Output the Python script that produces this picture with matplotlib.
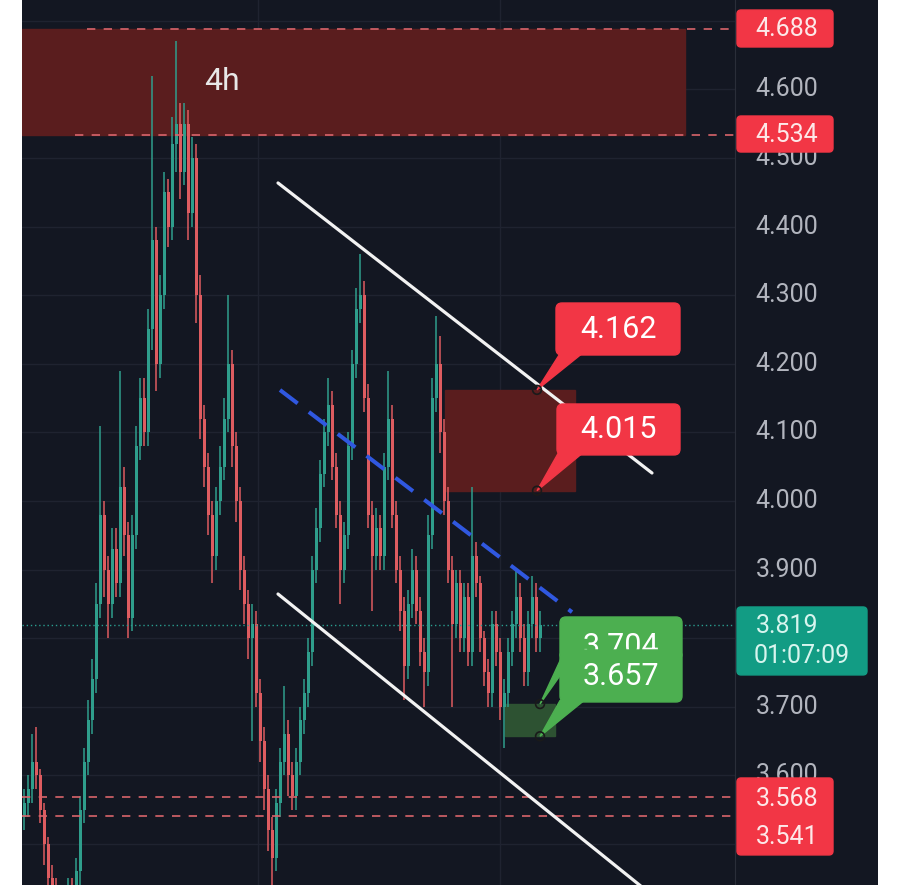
import matplotlib.pyplot as plt
import numpy as np
from matplotlib.patches import Rectangle, FancyBboxPatch, Polygon

plt.rcParams['font.family'] = ['Roboto', 'DejaVu Sans']

# 4h candles
first_open = 3.54
closes = [3.56, 3.58, 3.62, 3.60, 3.55, 3.50, 3.45, 3.43, 3.42, 3.41,
          3.42, 3.43, 3.42, 3.46, 3.55, 3.62, 3.68, 3.74, 3.85, 3.98,
          3.90, 3.85, 3.93, 3.88, 4.02, 3.95, 3.83, 3.95, 4.08, 4.15,
          4.10, 4.25, 4.38, 4.20, 4.30, 4.45, 4.40, 4.52, 4.55, 4.48,
          4.55, 4.42, 4.50, 4.30, 4.12, 4.05, 3.98, 3.92, 4.00, 4.05,
          4.12, 4.20, 4.08, 4.00, 3.90, 3.85, 3.80, 3.82, 3.72, 3.65,
          3.58, 3.52, 3.48, 3.56, 3.62, 3.66, 3.60, 3.57, 3.62, 3.68,
          3.72, 3.78, 3.90, 3.96, 4.04, 4.10, 4.14, 4.05, 3.98, 3.90,
          3.95, 4.08, 4.20, 4.28, 4.30, 4.15, 3.98, 3.92, 3.96, 3.92,
          4.05, 4.12, 3.98, 3.90, 3.84, 3.76, 3.85, 3.90, 3.84, 3.78,
          3.75, 3.95, 4.15, 4.20, 4.10, 4.00, 3.90, 3.82, 3.88, 3.80,
          3.86, 3.78, 3.92, 3.88, 3.80, 3.75, 3.72, 3.82, 3.78, 3.70,
          3.72, 3.78, 3.82, 3.86, 3.80, 3.75, 3.82, 3.86, 3.80, 3.819]
highs = [3.58, 3.60, 3.66, 3.67, 3.61, 3.56, 3.51, 3.47, 3.45, 3.44,
         3.44, 3.45, 3.45, 3.48, 3.57, 3.64, 3.71, 3.77, 3.88, 4.11,
         4.00, 3.92, 3.96, 3.96, 4.19, 4.05, 3.97, 3.98, 4.11, 4.18,
         4.18, 4.28, 4.62, 4.40, 4.33, 4.48, 4.47, 4.56, 4.67, 4.58,
         4.58, 4.57, 4.53, 4.52, 4.33, 4.14, 4.07, 4.00, 4.02, 4.08,
         4.15, 4.30, 4.22, 4.10, 4.02, 3.92, 3.87, 3.85, 3.84, 3.74,
         3.67, 3.60, 3.54, 3.58, 3.64, 3.73, 3.68, 3.62, 3.64, 3.70,
         3.74, 3.80, 3.92, 3.99, 4.06, 4.12, 4.18, 4.16, 4.07, 4.00,
         3.97, 4.10, 4.22, 4.31, 4.36, 4.32, 4.17, 4.00, 3.99, 3.98,
         4.07, 4.19, 4.14, 4.00, 3.92, 3.86, 3.87, 3.93, 3.92, 3.86,
         3.80, 3.98, 4.18, 4.27, 4.24, 4.12, 4.02, 3.92, 3.90, 3.90,
         3.88, 3.88, 4.02, 3.94, 3.89, 3.81, 3.77, 3.84, 3.84, 3.80,
         3.74, 3.80, 3.84, 3.90, 3.88, 3.82, 3.84, 3.89, 3.88, 3.84]
lows = [3.52, 3.54, 3.56, 3.58, 3.53, 3.47, 3.42, 3.40, 3.39, 3.38,
        3.39, 3.40, 3.39, 3.40, 3.44, 3.53, 3.60, 3.66, 3.72, 3.83,
        3.86, 3.80, 3.83, 3.86, 3.86, 3.92, 3.80, 3.81, 3.93, 4.06,
        4.08, 4.08, 4.22, 4.16, 4.18, 4.28, 4.37, 4.38, 4.48, 4.44,
        4.46, 4.38, 4.40, 4.26, 4.09, 4.02, 3.95, 3.88, 3.90, 3.98,
        4.03, 4.10, 4.05, 3.97, 3.87, 3.82, 3.77, 3.65, 3.70, 3.62,
        3.55, 3.49, 3.44, 3.46, 3.54, 3.60, 3.57, 3.55, 3.55, 3.60,
        3.66, 3.70, 3.76, 3.88, 3.94, 4.02, 4.08, 4.03, 3.96, 3.85,
        3.88, 3.93, 4.06, 4.18, 4.26, 4.13, 3.96, 3.84, 3.90, 3.90,
        3.90, 4.03, 3.96, 3.88, 3.81, 3.71, 3.74, 3.83, 3.82, 3.76,
        3.70, 3.73, 3.93, 4.13, 4.07, 3.98, 3.88, 3.70, 3.80, 3.78,
        3.78, 3.76, 3.76, 3.86, 3.78, 3.73, 3.70, 3.70, 3.76, 3.68,
        3.64, 3.70, 3.76, 3.80, 3.78, 3.73, 3.73, 3.80, 3.78, 3.78]

tick_levels = [4.6, 4.5, 4.4, 4.3, 4.2, 4.1, 4.0, 3.9, 3.7, 3.6]
grid_levels = [3.5, 3.6, 3.7, 3.8, 3.9, 4.0, 4.1, 4.2, 4.3, 4.4, 4.5, 4.6, 4.7]
top_zone = [4.534, 4.688]
mid_zone = [4.015, 4.162]
buy_zone = [3.657, 3.704]
support = [3.568, 3.541]
last_price = 3.819
countdown = '01:07:09'
timeframe = '4h'

bg = '#131722'
grid_c = '#1f2330'
up_c = '#2f9e8c'
down_c = '#de5c60'
red = '#f23645'
green = '#4caf50'
zone_red = '#5a1d1e'
zone_green = '#2d5232'

ylo, yhi = 3.4402, 4.7303
asp = 4 / 686.0   # px per bar / px per price unit

fig = plt.figure(figsize=(9, 8.85), dpi=100, facecolor='white')
ax = fig.add_axes([22/900, 0, 713/900, 1])
axp = fig.add_axes([735/900, 0, 143/900, 1])
for a in (ax, axp):
    a.set_facecolor(bg)
    a.set_ylim(ylo, yhi)
    a.set_xticks([])
    a.set_yticks([])
    for s in a.spines.values():
        s.set_visible(False)
ax.set_xlim(-0.5, 177.75)
axp.set_xlim(0, 143)
axp.spines['left'].set_visible(True)
axp.spines['left'].set_color('#2a2e39')

# grid
for g in grid_levels:
    ax.axhline(g, color=grid_c, lw=1, zorder=0)
for gx in [58.5, 119]:
    ax.axvline(gx, color=grid_c, lw=1, zorder=0)

# zones
ax.add_patch(Rectangle((-0.5, top_zone[0]), 165.75, top_zone[1] - top_zone[0], color=zone_red, zorder=1))
ax.add_patch(Rectangle((105.25, mid_zone[0]), 32.5, mid_zone[1] - mid_zone[0], color=zone_red, zorder=1))
ax.add_patch(Rectangle((120.25, buy_zone[0]), 12.5, buy_zone[1] - buy_zone[0], color=zone_green, zorder=1))

# candles
c = np.array(closes)
o = np.r_[first_open, c[:-1]]
x = np.arange(len(c))
cols = np.where(c >= o, up_c, down_c)
ax.vlines(x, lows, highs, colors=cols, lw=1.1, zorder=2)
ax.bar(x, np.maximum(np.abs(c - o), 0.004), bottom=np.minimum(o, c), width=0.75, color=cols, zorder=2)

# level lines
ax.plot([15.75, 177.75], [top_zone[1]] * 2, color='#d9646b', lw=1.2, dashes=(5, 5), zorder=3)
ax.plot([12.75, 177.75], [top_zone[0]] * 2, color='#d9646b', lw=1.2, dashes=(5, 5), zorder=3)
for s in support:
    ax.plot([-0.5, 177.75], [s] * 2, color='#d9646b', lw=1.2, dashes=(5, 5), zorder=3)
ax.axhline(last_price, color='#2a9d8f', lw=1, ls=(0, (1, 2)), zorder=3)

# channel
ax.plot([63.5, 157], [4.4636, 4.0408], color='#f2f2f2', lw=2.3, solid_capstyle='round', zorder=4)
ax.plot([63.5, 156], [3.8644, 3.4302], color='#f2f2f2', lw=2.3, solid_capstyle='round', zorder=4)
ax.plot([64, 137], [4.1618, 3.838], color='#3058e0', lw=2.9, ls=(0, (5.5, 3.5)), zorder=4)

ax.text(49.5, 4.6108, timeframe, color='#e8e8e8', fontsize=23, ha='center', va='center', zorder=5)


def callout(a, x0, x1, p0, p1, base, tip, label, color, z, tp=None):
    a.add_patch(Polygon([(base[0], p0 + 0.002), (base[1], p0 + 0.002), tip], color=color, zorder=z))
    a.add_patch(FancyBboxPatch((x0, p0), x1 - x0, p1 - p0, boxstyle='round,pad=0,rounding_size=1.5',
                               mutation_aspect=asp, color=color, zorder=z))
    if tp is None:
        tp = (p0 + p1) / 2
    a.text((x0 + x1) / 2, tp, label, color='white', fontsize=22, ha='center', va='center', zorder=z + 0.5)


callout(ax, 133, 164, 4.2128, 4.2886, (134, 139.5), (128.25, mid_zone[1]), '%.3f' % mid_zone[1], red, 6)
callout(ax, 133.25, 164, 4.0671, 4.1414, (133.5, 139.5), (128.25, mid_zone[0]), '%.3f' % mid_zone[0], red, 6)
callout(ax, 134, 164.5, 3.7682, 3.8309, (134.25, 137), (129, buy_zone[1]), '%.3f' % buy_zone[1], green, 6, tp=3.7875)
callout(ax, 134, 164.5, 3.7070, 3.7828, (134, 140), (129, buy_zone[0]), '%.3f' % buy_zone[0], green, 7, tp=3.7448)

ax.scatter([128.25, 128.25, 129, 129], [mid_zone[1], mid_zone[0], buy_zone[1], buy_zone[0]],
           s=40, facecolor='none', edgecolor='#1a1a1a', lw=1.2, zorder=8)

# price scale
for t in tick_levels:
    axp.text(52, t, '%.3f' % t, color='#b2b5be', fontsize=18, ha='center', va='center')

pasp = 1 / 686.0


def axis_box(p0, p1, color):
    axp.add_patch(FancyBboxPatch((2, p0), 96, p1 - p0, boxstyle='round,pad=0,rounding_size=4',
                                 mutation_aspect=pasp, color=color, zorder=5))


axis_box(4.6618, 4.7157, red)
axp.text(52, top_zone[1], '%.3f' % top_zone[1], color='#fde8e8', fontsize=18, ha='center', va='center', zorder=6)
axis_box(4.5087, 4.5612, red)
axp.text(52, top_zone[0], '%.3f' % top_zone[0], color='#fde8e8', fontsize=18, ha='center', va='center', zorder=6)
axis_box(3.4840, 3.5962, red)
axp.text(52, 3.5656, '%.3f' % support[0], color='#fde8e8', fontsize=18, ha='center', va='center', zorder=6)
axp.text(52, 3.5102, '%.3f' % support[1], color='#fde8e8', fontsize=18, ha='center', va='center', zorder=6)

axp.add_patch(FancyBboxPatch((2, 3.7464), 130, 0.0991, boxstyle='round,pad=0,rounding_size=4',
                             mutation_aspect=pasp, color='#129c84', zorder=5))
axp.text(52, 3.8178, '%.3f' % last_price, color='#d7f5ee', fontsize=18, ha='center', va='center', zorder=6)
axp.text(67, 3.7740, countdown, color='#d7f5ee', fontsize=18, ha='center', va='center', zorder=6)

plt.savefig('out.png', dpi=100, facecolor='white')
